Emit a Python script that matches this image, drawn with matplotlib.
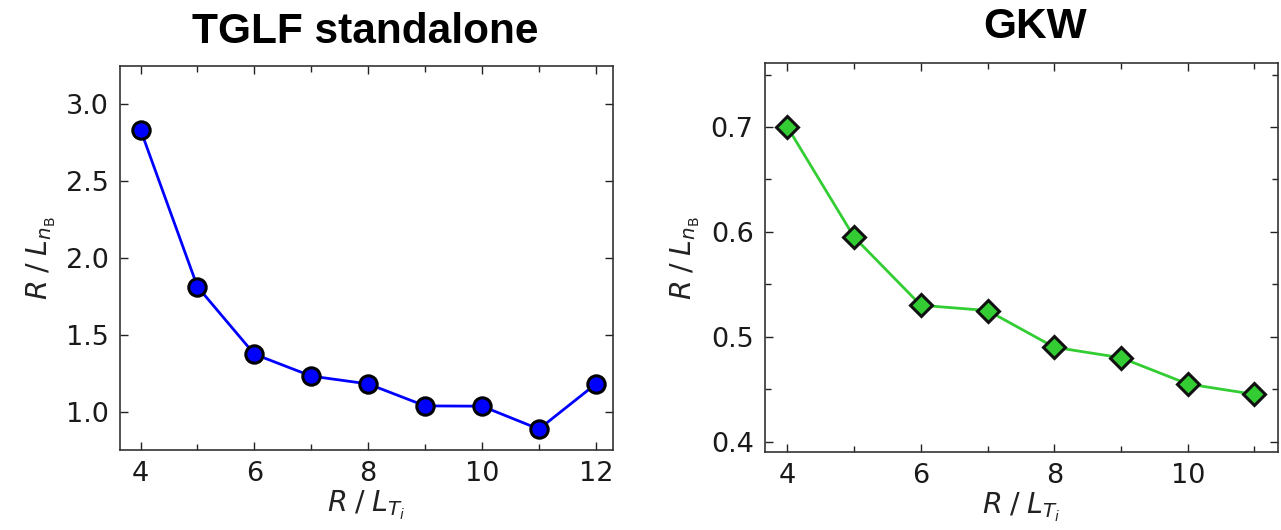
import matplotlib
matplotlib.use("Agg")
import matplotlib.pyplot as plt

# TGLF standalone scan
tglf_rlti = [4, 5, 6, 7, 8, 9, 10, 11, 12]
tglf_rlnb = [2.835, 1.813, 1.374, 1.231, 1.180, 1.037, 1.035, 0.886, 1.180]

# GKW scan
gkw_rlti = [4, 5, 6, 7, 8, 9, 10, 11]
gkw_rlnb = [0.700, 0.595, 0.530, 0.525, 0.490, 0.480, 0.455, 0.445]

XLABEL = r"$R\;/\;L_{T_i}$"
YLABEL = r"$R\;/\;L_{n_\mathrm{B}}$"

plt.rcParams["font.family"] = "DejaVu Sans"
plt.rcParams["mathtext.fontset"] = "dejavusans"


def style_axes(ax):
    ax.tick_params(which="both", direction="in", top=True, right=True,
                   labelsize=19.5, color="#222222", labelcolor="#1a1a1a", pad=8)
    ax.tick_params(which="major", length=6, width=1)
    ax.tick_params(which="minor", length=4, width=1)
    for sp in ax.spines.values():
        sp.set_linewidth(1.2)
        sp.set_color("#333333")


fig = plt.figure(figsize=(12.81, 5.30), dpi=100)

ax1 = fig.add_axes([0.0937, 0.151, 0.3848, 0.7245])
ax1.plot(tglf_rlti, tglf_rlnb, "-o", color="blue", lw=2,
         markersize=12.5, markerfacecolor="blue",
         markeredgecolor="black", markeredgewidth=2.2)
ax1.set_xlim(3.64, 12.3)
ax1.set_ylim(0.75, 3.25)
ax1.set_xticks([4, 6, 8, 10, 12])
ax1.set_xticks([5, 7, 9, 11], minor=True)
ax1.set_yticks([1.0, 1.5, 2.0, 2.5, 3.0])
style_axes(ax1)
ax1.set_xlabel(XLABEL, fontsize=20.5, color="#222222", labelpad=1)
ax1.set_ylabel(YLABEL, fontsize=20.5, color="#222222", labelpad=6)
fig.text(0.285, 0.918, "TGLF standalone", ha="center", va="baseline",
         fontsize=30.5, fontweight="bold", family="Liberation Sans")

ax2 = fig.add_axes([0.597, 0.147, 0.401, 0.734])
ax2.plot(gkw_rlti, gkw_rlnb, "-D", color="limegreen", lw=2,
         markersize=11, markerfacecolor="#33CC33",
         markeredgecolor="#111111", markeredgewidth=2.2)
ax2.set_xlim(3.66, 11.36)
ax2.set_ylim(0.39, 0.761)
ax2.set_xticks([4, 6, 8, 10])
ax2.set_xticks([5, 7, 9, 11], minor=True)
ax2.set_yticks([0.4, 0.5, 0.6, 0.7])
ax2.set_yticks([0.45, 0.55, 0.65, 0.75], minor=True)
style_axes(ax2)
ax2.set_xlabel(XLABEL, fontsize=20.5, color="#222222", labelpad=1)
ax2.set_ylabel(YLABEL, fontsize=20.5, color="#222222", labelpad=6)
fig.text(0.808, 0.928, "GKW", ha="center", va="baseline",
         fontsize=30.5, fontweight="bold", family="Liberation Sans")

fig.savefig("out.png", dpi=100)
